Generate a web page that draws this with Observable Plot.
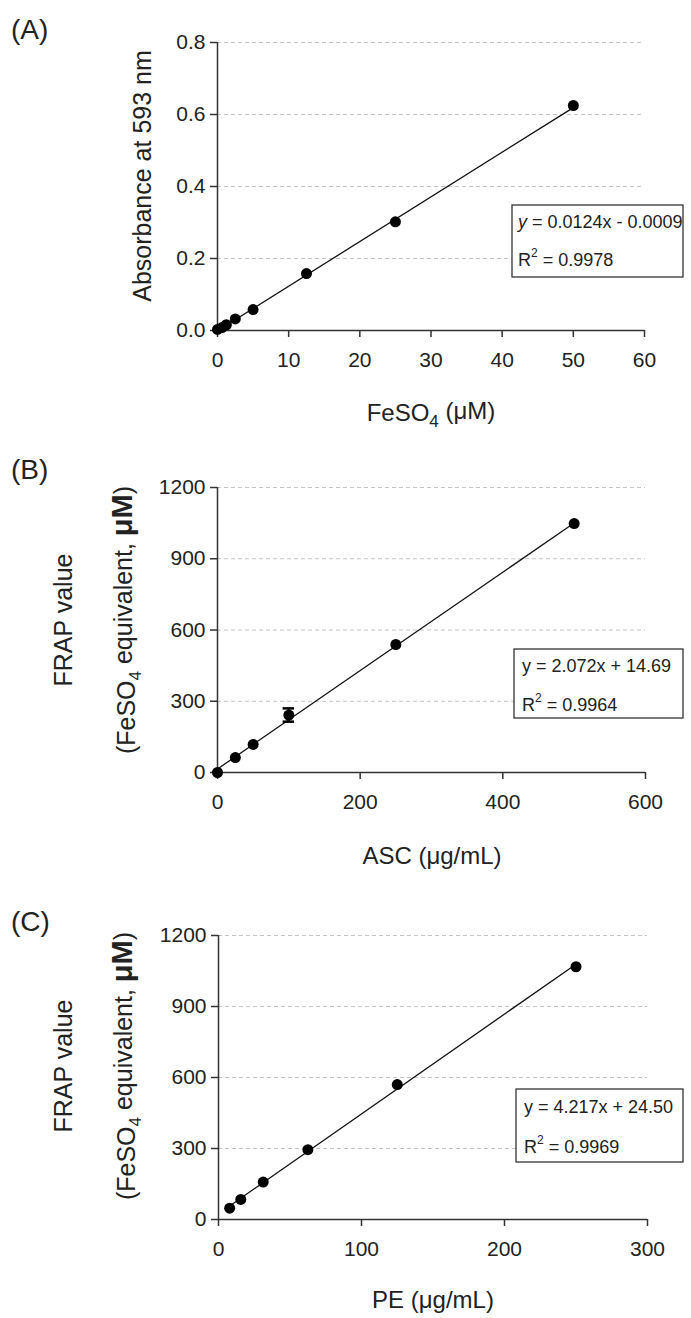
<!DOCTYPE html>
<html><head><meta charset="utf-8">
<script src="https://cdn.jsdelivr.net/npm/d3@7"></script>
<script src="https://cdn.jsdelivr.net/npm/@observablehq/plot@0.6"></script>
<style>
body{margin:0;background:#fff;}
#wrap{position:relative;width:691px;height:1318px;background:#fff;}
#wrap svg{position:absolute;left:0;}
</style></head><body><div id="wrap"></div>
<script>
const FONT = "'Liberation Sans', Arial, Helvetica, sans-serif";

// ---- Panel A: FeSO4 standard curve ----
const feConc = [0, 0.625, 1.25, 2.5, 5, 12.5, 25, 50];
const feAbs  = [0.003, 0.008, 0.016, 0.032, 0.058, 0.158, 0.302, 0.625];
const feFit  = [0.0124, -0.0009];           // slope, intercept
const feXTicks = [0, 10, 20, 30, 40, 50, 60];
const feYTicks = [0, 0.2, 0.4, 0.6, 0.8];

// ---- Panel B: ASC ----
const ascConc = [0, 25, 50, 100, 250, 500];
const ascFrap = [0, 63, 118, 242, 539, 1048];
const ascErr  = [0, 0, 0, 28, 0, 0];
const ascFit  = [2.072, 14.69];
const ascXTicks = [0, 200, 400, 600];
const frapYTicks = [0, 300, 600, 900, 1200];

// ---- Panel C: PE ----
const peConc = [7.8, 15.6, 31.25, 62.5, 125, 250];
const peFrap = [48, 85, 158, 295, 570, 1068];
const peFit  = [4.217, 24.50];
const peXTicks = [0, 100, 200, 300];

const wrap = document.getElementById("wrap");

function panel(cfg) {
  const pts = cfg.xs.map((x, i) => ({x, y: cfg.ys[i], e: cfg.err ? cfg.err[i] : 0}));
  const xMin = d3.min(cfg.xs), xMax = d3.max(cfg.xs);
  const fit = [xMin, xMax].map(x => ({x, y: cfg.fit[0] * x + cfg.fit[1]}));
  const errPts = pts.filter(d => d.e > 0);
  const cap = cfg.cap || 0;
  const marks = [
    Plot.ruleY(cfg.yTicks.filter(t => t > 0), {stroke: "#c4c4c4", strokeDasharray: "4,3", strokeWidth: 1}),
    Plot.axisY({ticks: cfg.yTicks, tickSize: 7, tickPadding: 5, tickFormat: cfg.yFmt, label: null,
                stroke: "#333", strokeWidth: 1.5, fontSize: 21, fill: "#222"}),
    Plot.axisX({ticks: cfg.xTicks, tickSize: 7, tickPadding: 15, tickFormat: d3.format("d"), label: null,
                stroke: "#333", strokeWidth: 1.5, fontSize: 21, fill: "#222"}),
    Plot.ruleY([cfg.yDomain[0]], {stroke: "#333", strokeWidth: 1.5}),
    Plot.ruleX([cfg.xDomain[0]], {stroke: "#333", strokeWidth: 1.5}),
    Plot.line(fit, {x: "x", y: "y", stroke: "#111", strokeWidth: 1.3}),
    Plot.ruleX(errPts, {x: "x", y1: d => d.y - d.e, y2: d => d.y + d.e, stroke: "#000", strokeWidth: 2}),
    Plot.ruleY(errPts, {y: d => d.y + d.e, x1: d => d.x - cap, x2: d => d.x + cap, stroke: "#000", strokeWidth: 2.5}),
    Plot.ruleY(errPts, {y: d => d.y - d.e, x1: d => d.x - cap, x2: d => d.x + cap, stroke: "#000", strokeWidth: 2.5}),
    Plot.dot(pts, {x: "x", y: "y", r: 5.5, fill: "#000", stroke: "none"})
  ];
  const svg = Plot.plot({
    width: 691, height: cfg.height,
    marginLeft: cfg.ml, marginRight: cfg.mr, marginTop: cfg.mt, marginBottom: cfg.mb,
    x: {domain: cfg.xDomain},
    y: {domain: cfg.yDomain},
    style: {fontFamily: FONT, fontSize: "21px", color: "#222", background: "transparent", overflow: "visible"},
    marks
  });
  svg.style.top = cfg.top + "px";
  wrap.appendChild(svg);
  const s = d3.select(svg);
  const g = s.append("g").attr("font-family", FONT).attr("fill", "#222").attr("text-anchor", "start");
  // panel letter
  g.append("text").attr("x", 11).attr("y", cfg.letterY).attr("font-size", 28).text(cfg.letter);
  // x title
  const xt = g.append("text").attr("x", cfg.xtX).attr("y", cfg.xtY).attr("text-anchor", "middle").attr("font-size", 24);
  cfg.xTitle(xt);
  // y title(s)
  cfg.yTitle(g);
  // equation box
  const b = cfg.box;
  g.append("rect").attr("x", b.x).attr("y", b.y).attr("width", b.w).attr("height", b.h)
    .attr("fill", "#fff").attr("stroke", "#333").attr("stroke-width", 1.3);
  const t1 = g.append("text").attr("x", b.tx).attr("y", b.l1).attr("font-size", 18);
  if (cfg.italicY) {
    t1.append("tspan").attr("font-style", "italic").text("y");
    t1.append("tspan").text(" = " + cfg.eqRest);
  } else {
    t1.text("y = " + cfg.eqRest);
  }
  const t2 = g.append("text").attr("x", b.tx).attr("y", b.l2).attr("font-size", 18);
  t2.append("tspan").text("R");
  t2.append("tspan").attr("font-size", 12).attr("dy", "-0.75em").text("2");
  t2.append("tspan").attr("dy", "0.5em").text(" = " + cfg.r2);
}

function frapTitle(g, cy) {
  g.append("text").attr("transform", `translate(72,${cy}) rotate(-90)`).attr("text-anchor", "middle")
    .attr("font-size", 25).text("FRAP value");
  const t = g.append("text").attr("transform", `translate(135,${cy}) rotate(-90)`).attr("text-anchor", "middle")
    .attr("font-size", 25);
  t.append("tspan").text("(FeSO");
  t.append("tspan").attr("font-size", 17).attr("dy", "0.35em").text("4");
  t.append("tspan").attr("dy", "-0.35em").text(" equivalent, ");
  t.append("tspan").attr("font-size", 29).attr("font-weight", "bold").text("\u03BCM");
  t.append("tspan").text(")");
}

panel({
  top: 0, height: 440, ml: 217, mr: 47, mt: 42, mb: 110,
  xs: feConc, ys: feAbs, fit: feFit, xDomain: [0, 60], yDomain: [0, 0.8],
  xTicks: feXTicks, yTicks: feYTicks, yFmt: d3.format(".1f"),
  letter: "(A)", letterY: 39, xtX: 431, xtY: 421,
  xTitle: t => { t.append("tspan").text("FeSO"); t.append("tspan").attr("font-size", 17).attr("dy", "0.35em").text("4");
                 t.append("tspan").attr("dy", "-0.35em").text(" (\u03BCM)"); },
  yTitle: g => g.append("text").attr("transform", "translate(151,176) rotate(-90)").attr("text-anchor", "middle")
                .attr("font-size", 25).text("Absorbance at 593 nm"),
  box: {x: 512, y: 205, w: 171, h: 72, tx: 518, l1: 228, l2: 266},
  italicY: true, eqRest: "0.0124x - 0.0009", r2: "0.9978"
});

panel({
  top: 440, height: 440, ml: 217, mr: 46, mt: 47, mb: 108,
  xs: ascConc, ys: ascFrap, err: ascErr, cap: 8, fit: ascFit, xDomain: [0, 600], yDomain: [0, 1200],
  xTicks: ascXTicks, yTicks: frapYTicks, yFmt: d3.format("d"),
  letter: "(B)", letterY: 39, xtX: 432, xtY: 424,
  xTitle: t => t.text("ASC (\u03BCg/mL)"),
  yTitle: g => frapTitle(g, 180),
  box: {x: 514, y: 209, w: 169, h: 69, tx: 522, l1: 232, l2: 271},
  italicY: false, eqRest: "2.072x + 14.69", r2: "0.9964"
});

panel({
  top: 880, height: 438, ml: 218, mr: 44, mt: 55, mb: 99,
  xs: peConc, ys: peFrap, fit: peFit, xDomain: [0, 300], yDomain: [0, 1200],
  xTicks: peXTicks, yTicks: frapYTicks, yFmt: d3.format("d"),
  letter: "(C)", letterY: 51, xtX: 433, xtY: 428,
  xTitle: t => t.text("PE (\u03BCg/mL)"),
  yTitle: g => frapTitle(g, 186),
  box: {x: 516, y: 209, w: 167, h: 73, tx: 524, l1: 233, l2: 273},
  italicY: false, eqRest: "4.217x + 24.50", r2: "0.9969"
});
</script>
</body></html>
